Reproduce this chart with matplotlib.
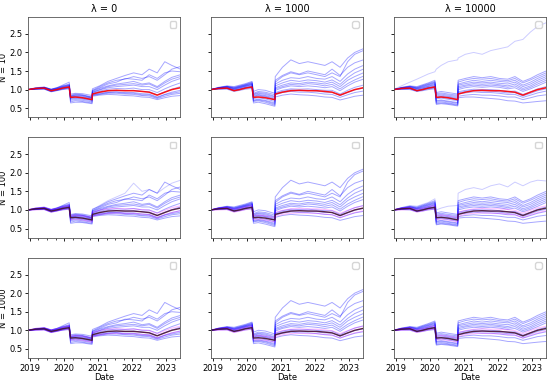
import matplotlib
matplotlib.use('Agg')
import matplotlib.pyplot as plt
import matplotlib.dates as mdates
import pandas as pd

dates = pd.to_datetime([
    '2018-12-10', '2019-03-01', '2019-06-01', '2019-08-15', '2019-10-15', '2019-12-15',
    '2020-02-24', '2020-03-10', '2020-05-01', '2020-07-15', '2020-10-26', '2020-10-30',
    '2021-01-15', '2021-04-15', '2021-07-15', '2021-10-15', '2022-01-15', '2022-04-15',
    '2022-07-01', '2022-09-25', '2022-12-15', '2023-03-01', '2023-06-01'])

lambdas = ['0', '1000', '10000']
sizes = ['10', '100', '1000']

# benchmark / mean path
mean_path = [1.00, 1.03, 1.04, 0.97, 1.00, 1.04, 1.07, 0.79, 0.80, 0.78, 0.73, 0.88,
             0.93, 0.97, 0.98, 0.97, 0.97, 0.95, 0.93, 0.85, 0.93, 1.00, 1.05]

# pink reference paths (rows N=100, N=1000)
pink_hi = [1.01, 1.05, 1.07, 1.01, 1.04, 1.08, 1.12, 0.84, 0.86, 0.84, 0.79, 0.94,
           0.99, 1.03, 1.04, 1.03, 1.03, 1.01, 0.99, 0.91, 0.99, 1.06, 1.11]
pink_lo = [0.99, 1.00, 1.01, 0.94, 0.97, 1.01, 1.03, 0.74, 0.75, 0.73, 0.68, 0.83,
           0.88, 0.91, 0.92, 0.91, 0.91, 0.89, 0.87, 0.79, 0.87, 0.93, 0.98]

# portfolio paths, lambda = 0
paths_l0 = [
    [1.00, 1.05, 1.07, 1.01, 1.05, 1.10, 1.15, 0.85, 0.88, 0.86, 0.80, 0.98, 1.08, 1.18, 1.25, 1.28, 1.35, 1.30, 1.35, 1.25, 1.40, 1.55, 1.62],
    [1.00, 1.04, 1.06, 1.00, 1.03, 1.08, 1.12, 0.82, 0.85, 0.84, 0.78, 0.95, 1.03, 1.10, 1.15, 1.18, 1.22, 1.15, 1.18, 1.08, 1.22, 1.33, 1.40],
    [1.00, 1.03, 1.05, 0.99, 1.02, 1.06, 1.10, 0.80, 0.82, 0.80, 0.76, 0.92, 0.99, 1.05, 1.08, 1.10, 1.12, 1.08, 1.08, 1.00, 1.12, 1.22, 1.30],
    [1.00, 1.03, 1.04, 0.98, 1.01, 1.05, 1.09, 0.78, 0.80, 0.78, 0.74, 0.90, 0.96, 1.01, 1.03, 1.02, 1.04, 1.00, 1.00, 0.92, 1.02, 1.10, 1.18],
    [1.00, 1.02, 1.04, 0.97, 1.00, 1.04, 1.07, 0.76, 0.78, 0.76, 0.72, 0.88, 0.93, 0.97, 0.98, 0.97, 0.98, 0.95, 0.94, 0.86, 0.94, 1.01, 1.08],
    [1.00, 1.02, 1.03, 0.96, 0.99, 1.03, 1.06, 0.74, 0.76, 0.74, 0.70, 0.86, 0.90, 0.93, 0.94, 0.92, 0.92, 0.89, 0.88, 0.80, 0.87, 0.93, 0.98],
    [1.00, 1.01, 1.02, 0.95, 0.98, 1.02, 1.05, 0.71, 0.73, 0.71, 0.67, 0.84, 0.87, 0.90, 0.90, 0.88, 0.87, 0.84, 0.83, 0.76, 0.82, 0.87, 0.90],
    [1.00, 1.01, 1.01, 0.94, 0.97, 1.01, 1.04, 0.67, 0.70, 0.68, 0.64, 0.82, 0.85, 0.87, 0.86, 0.84, 0.83, 0.80, 0.79, 0.73, 0.78, 0.82, 0.84],
    [1.00, 1.04, 1.06, 1.00, 1.04, 1.09, 1.13, 0.83, 0.86, 0.85, 0.79, 0.97, 1.05, 1.15, 1.20, 1.30, 1.28, 1.25, 1.40, 1.30, 1.45, 1.50, 1.48],
    [1.00, 1.02, 1.05, 0.98, 1.02, 1.07, 1.11, 0.81, 0.83, 0.82, 0.77, 0.93, 1.00, 1.08, 1.12, 1.14, 1.16, 1.12, 1.15, 1.05, 1.18, 1.28, 1.35],
    [1.00, 1.03, 1.06, 1.01, 1.05, 1.12, 1.20, 0.88, 0.90, 0.89, 0.84, 1.02, 1.10, 1.22, 1.30, 1.38, 1.45, 1.40, 1.55, 1.45, 1.75, 1.65, 1.55],
    [1.00, 1.01, 1.02, 0.95, 0.98, 1.00, 1.02, 0.64, 0.66, 0.66, 0.62, 0.85, 0.88, 0.92, 0.93, 0.90, 0.90, 0.86, 0.86, 0.78, 0.86, 0.90, 0.94],
]

# portfolio paths, lambda = 1000
paths_l1000 = [
    [1.00, 1.06, 1.10, 1.08, 1.12, 1.16, 1.22, 0.95, 1.00, 0.98, 0.90, 1.35, 1.60, 1.80, 1.70, 1.75, 1.70, 1.65, 1.75, 1.60, 1.85, 2.00, 2.10],
    [1.00, 1.05, 1.08, 1.05, 1.09, 1.13, 1.18, 0.88, 0.92, 0.90, 0.82, 1.15, 1.25, 1.32, 1.30, 1.35, 1.30, 1.28, 1.35, 1.22, 1.42, 1.55, 1.65],
    [1.00, 1.04, 1.07, 1.02, 1.06, 1.10, 1.14, 0.82, 0.85, 0.82, 0.74, 1.05, 1.12, 1.18, 1.16, 1.20, 1.18, 1.15, 1.20, 1.08, 1.25, 1.35, 1.45],
    [1.00, 1.04, 1.05, 1.00, 1.04, 1.08, 1.11, 0.76, 0.78, 0.75, 0.68, 0.98, 1.05, 1.10, 1.08, 1.10, 1.08, 1.05, 1.08, 0.97, 1.10, 1.20, 1.28],
    [1.00, 1.03, 1.04, 0.98, 1.02, 1.06, 1.09, 0.72, 0.74, 0.71, 0.64, 0.92, 0.98, 1.02, 1.01, 1.02, 1.00, 0.98, 0.98, 0.88, 0.98, 1.06, 1.12],
    [1.00, 1.02, 1.03, 0.97, 1.00, 1.04, 1.06, 0.68, 0.70, 0.66, 0.58, 0.86, 0.92, 0.95, 0.93, 0.93, 0.91, 0.88, 0.87, 0.79, 0.86, 0.92, 0.96],
    [1.00, 1.01, 1.01, 0.95, 0.98, 1.01, 1.03, 0.64, 0.66, 0.62, 0.55, 0.80, 0.85, 0.88, 0.86, 0.85, 0.83, 0.80, 0.79, 0.72, 0.77, 0.82, 0.85],
    [1.00, 1.05, 1.09, 1.06, 1.10, 1.14, 1.20, 0.90, 0.95, 0.93, 0.86, 1.25, 1.38, 1.48, 1.42, 1.50, 1.45, 1.40, 1.55, 1.38, 1.60, 1.72, 1.80],
    [1.00, 1.03, 1.06, 1.01, 1.05, 1.09, 1.13, 0.80, 0.83, 0.80, 0.72, 1.02, 1.08, 1.14, 1.12, 1.16, 1.14, 1.10, 1.14, 1.02, 1.16, 1.26, 1.36],
    [1.00, 1.05, 1.08, 1.04, 1.08, 1.12, 1.17, 0.86, 0.90, 0.87, 0.80, 1.20, 1.35, 1.45, 1.40, 1.45, 1.40, 1.35, 1.45, 1.35, 1.75, 1.95, 2.05],
    [1.00, 1.04, 1.07, 1.03, 1.07, 1.11, 1.15, 0.84, 0.87, 0.84, 0.77, 1.10, 1.18, 1.25, 1.22, 1.26, 1.24, 1.20, 1.26, 1.14, 1.32, 1.45, 1.55],
    [1.00, 1.02, 1.03, 0.98, 1.01, 1.05, 1.08, 0.70, 0.72, 0.69, 0.61, 0.89, 0.95, 0.99, 0.97, 0.98, 0.96, 0.93, 0.93, 0.84, 0.92, 0.99, 1.04],
]

# portfolio paths, lambda = 10000
paths_l10000 = [
    [1.00, 1.06, 1.10, 1.08, 1.13, 1.18, 1.25, 0.92, 0.95, 0.92, 0.88, 1.25, 1.30, 1.35, 1.32, 1.35, 1.30, 1.28, 1.35, 1.22, 1.30, 1.40, 1.50],
    [1.00, 1.05, 1.08, 1.05, 1.10, 1.14, 1.20, 0.86, 0.88, 0.85, 0.82, 1.15, 1.20, 1.25, 1.22, 1.25, 1.22, 1.20, 1.25, 1.12, 1.20, 1.30, 1.40],
    [1.00, 1.04, 1.07, 1.03, 1.07, 1.11, 1.16, 0.80, 0.82, 0.80, 0.76, 1.08, 1.12, 1.16, 1.14, 1.16, 1.13, 1.10, 1.15, 1.03, 1.10, 1.20, 1.30],
    [1.00, 1.04, 1.05, 1.01, 1.04, 1.08, 1.12, 0.75, 0.77, 0.74, 0.70, 1.00, 1.05, 1.08, 1.06, 1.08, 1.06, 1.02, 1.05, 0.95, 1.02, 1.10, 1.20],
    [1.00, 1.03, 1.04, 0.99, 1.02, 1.06, 1.09, 0.70, 0.72, 0.69, 0.65, 0.94, 0.98, 1.01, 1.00, 1.00, 0.98, 0.95, 0.96, 0.87, 0.94, 1.02, 1.08],
    [1.00, 1.02, 1.03, 0.97, 1.00, 1.04, 1.06, 0.65, 0.67, 0.64, 0.60, 0.88, 0.91, 0.94, 0.92, 0.92, 0.90, 0.87, 0.87, 0.79, 0.85, 0.91, 0.96],
    [1.00, 1.01, 1.02, 0.96, 0.99, 1.02, 1.04, 0.60, 0.62, 0.60, 0.56, 0.82, 0.85, 0.87, 0.85, 0.85, 0.83, 0.80, 0.80, 0.73, 0.78, 0.83, 0.86],
    [1.00, 1.05, 1.09, 1.06, 1.11, 1.16, 1.22, 0.89, 0.91, 0.88, 0.85, 1.20, 1.26, 1.30, 1.28, 1.30, 1.26, 1.24, 1.30, 1.18, 1.26, 1.35, 1.45],
    [1.00, 1.03, 1.06, 1.02, 1.05, 1.09, 1.14, 0.78, 0.80, 0.77, 0.73, 1.04, 1.09, 1.12, 1.10, 1.12, 1.10, 1.06, 1.10, 0.99, 1.06, 1.15, 1.25],
    [1.00, 1.01, 1.00, 0.95, 0.97, 1.00, 1.02, 0.62, 0.64, 0.62, 0.58, 0.78, 0.80, 0.80, 0.78, 0.76, 0.74, 0.70, 0.69, 0.64, 0.66, 0.68, 0.70],
    [1.00, 1.04, 1.08, 1.04, 1.08, 1.13, 1.18, 0.83, 0.85, 0.82, 0.79, 1.12, 1.16, 1.20, 1.18, 1.20, 1.17, 1.15, 1.20, 1.08, 1.15, 1.25, 1.35],
    [1.00, 1.02, 1.03, 0.98, 1.01, 1.05, 1.08, 0.68, 0.70, 0.67, 0.63, 0.91, 0.95, 0.98, 0.96, 0.96, 0.94, 0.91, 0.92, 0.83, 0.90, 0.97, 1.02],
]

# single paths seen in only one panel
extra_n10_l10000 = [1.00, 1.10, 1.20, 1.28, 1.35, 1.42, 1.48, 1.55, 1.65, 1.75, 1.80, 1.85,
                    1.95, 2.00, 1.95, 2.05, 2.10, 2.15, 2.30, 2.35, 2.55, 2.70, 2.80]
extra_n100_l0 = [1.00, 1.05, 1.08, 1.02, 1.06, 1.11, 1.16, 0.86, 0.89, 0.87, 0.81, 1.00,
                 1.12, 1.25, 1.35, 1.45, 1.72, 1.50, 1.55, 1.45, 1.60, 1.72, 1.80]
extra_n100_l10000 = [1.00, 1.06, 1.12, 1.10, 1.15, 1.20, 1.30, 1.00, 1.05, 1.10, 1.12, 1.45,
                     1.55, 1.60, 1.55, 1.65, 1.70, 1.62, 1.75, 1.65, 1.75, 1.80, 1.78]

col_paths = [paths_l0, paths_l1000, paths_l10000]
extras = {(0, 2): [extra_n10_l10000], (1, 0): [extra_n100_l0], (1, 2): [extra_n100_l10000]}

fig, axes = plt.subplots(3, 3, figsize=(5.5, 3.81), dpi=100, sharex=True, sharey=True)
plt.subplots_adjust(left=0.051, right=0.993, top=0.955, bottom=0.06, wspace=0.2, hspace=0.2)

for r in range(3):
    for c in range(3):
        ax = axes[r, c]
        for p in col_paths[c]:
            ax.plot(dates, p, color='blue', alpha=0.35, lw=0.7)
        for p in extras.get((r, c), []):
            ax.plot(dates, p, color='blue', alpha=0.2, lw=0.7)
        if r == 0:
            ax.plot(dates, mean_path, color='red', lw=1.1, alpha=0.9)
        else:
            ax.plot(dates, pink_hi, color='magenta', alpha=0.25, lw=0.8)
            ax.plot(dates, pink_lo, color='magenta', alpha=0.25, lw=0.8)
            ax.plot(dates, mean_path, color='#4a1030', lw=1.0, alpha=0.9)
        ax.legend(handles=[], loc='upper right', fontsize=6)
        ax.set_xlim(dates[0], dates[-1])
        ax.set_ylim(0.25, 2.95)
        ax.set_yticks([0.5, 1.0, 1.5, 2.0, 2.5])
        ax.xaxis.set_major_locator(mdates.YearLocator())
        ax.xaxis.set_major_formatter(mdates.DateFormatter('%Y'))
        ax.xaxis.set_minor_locator(mdates.MonthLocator(bymonth=[1, 4, 7, 10]))
        ax.tick_params(labelsize=6, length=2.5, width=0.6, pad=1.5)
        ax.tick_params(which='minor', length=1.5, width=0.5)
        for s in ax.spines.values():
            s.set_linewidth(0.6)
            s.set_color('#555555')
        if r == 0:
            ax.set_title('λ = ' + lambdas[c], fontsize=7, pad=4)
        if c == 0:
            ax.set_ylabel('N = ' + sizes[r], fontsize=6, labelpad=1)
        if r == 2:
            ax.set_xlabel('Date', fontsize=6, labelpad=0)

fig.savefig('out.png', dpi=100)
